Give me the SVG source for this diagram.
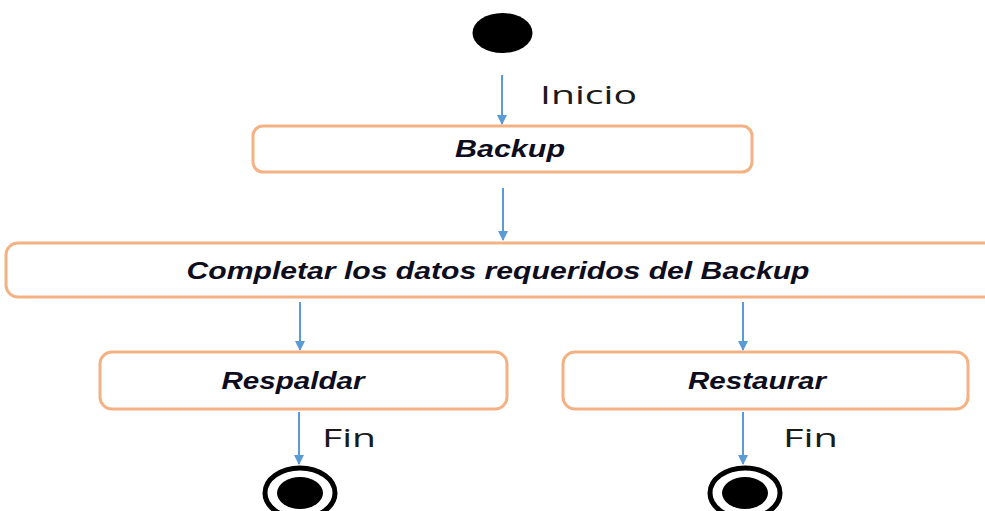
<svg xmlns="http://www.w3.org/2000/svg" width="985" height="511" viewBox="0 0 985 511">
<defs>
<marker id="ah" viewBox="0 0 10 10" refX="9" refY="5" markerWidth="10" markerHeight="12" orient="auto" markerUnits="userSpaceOnUse">
<path d="M0,0 L10,5 L0,10 z" fill="#5B9BD5"/>
</marker>
<style>
.box{fill:#fff;stroke:#F4B183;stroke-width:3}
.lbl{font-family:"Liberation Sans",Arial,sans-serif;font-weight:bold;font-style:italic;font-size:24px;fill:#0d0d1e;text-anchor:middle}
.tr{font-family:"Open Sans","Noto Sans",sans-serif;font-size:26px;fill:#1a1a1a}
.edge{stroke:#5B9BD5;stroke-width:2;fill:none;marker-end:url(#ah)}
</style>
</defs>
<rect width="985" height="511" fill="#fff"/>
<g id="connectors">
<line class="edge" x1="502" y1="75" x2="502" y2="124"/>
<line class="edge" x1="503" y1="188" x2="503" y2="240"/>
<line class="edge" x1="300" y1="302" x2="300" y2="350"/>
<line class="edge" x1="743" y1="302" x2="743" y2="350"/>
<line class="edge" x1="299" y1="412" x2="299" y2="464"/>
<line class="edge" x1="743" y1="412" x2="743" y2="464"/>
<text class="tr" x="540" y="104" textLength="97" lengthAdjust="spacingAndGlyphs">Inicio</text>
<text class="tr" x="322" y="447" textLength="54" lengthAdjust="spacingAndGlyphs">Fin</text>
<text class="tr" x="783" y="447" textLength="55" lengthAdjust="spacingAndGlyphs">Fin</text>
</g>
<g id="start">
<ellipse cx="502.5" cy="33" rx="30" ry="20" fill="#000"/>
</g>
<g id="backup">
<rect class="box" x="253" y="126" width="499" height="46" rx="10"/>
<text class="lbl" x="510" y="157" textLength="110" lengthAdjust="spacingAndGlyphs">Backup</text>
</g>
<g id="completar">
<rect class="box" x="6" y="243" width="1000" height="54" rx="12"/>
<text class="lbl" x="498" y="279" textLength="623" lengthAdjust="spacingAndGlyphs">Completar los datos requeridos del Backup</text>
</g>
<g id="respaldar">
<rect class="box" x="100" y="352" width="407" height="57" rx="12"/>
<text class="lbl" x="293" y="389" textLength="143" lengthAdjust="spacingAndGlyphs">Respaldar</text>
</g>
<g id="restaurar">
<rect class="box" x="563" y="352" width="405" height="57" rx="12"/>
<text class="lbl" x="757" y="389" textLength="138" lengthAdjust="spacingAndGlyphs">Restaurar</text>
</g>
<g id="end1">
<ellipse cx="300" cy="493" rx="35" ry="25" fill="#fff" stroke="#000" stroke-width="5"/>
<ellipse cx="300" cy="493" rx="23" ry="16" fill="#000"/>
</g>
<g id="end2">
<ellipse cx="745" cy="493" rx="35" ry="25" fill="#fff" stroke="#000" stroke-width="5"/>
<ellipse cx="745" cy="493" rx="23" ry="16" fill="#000"/>
</g>
</svg>
